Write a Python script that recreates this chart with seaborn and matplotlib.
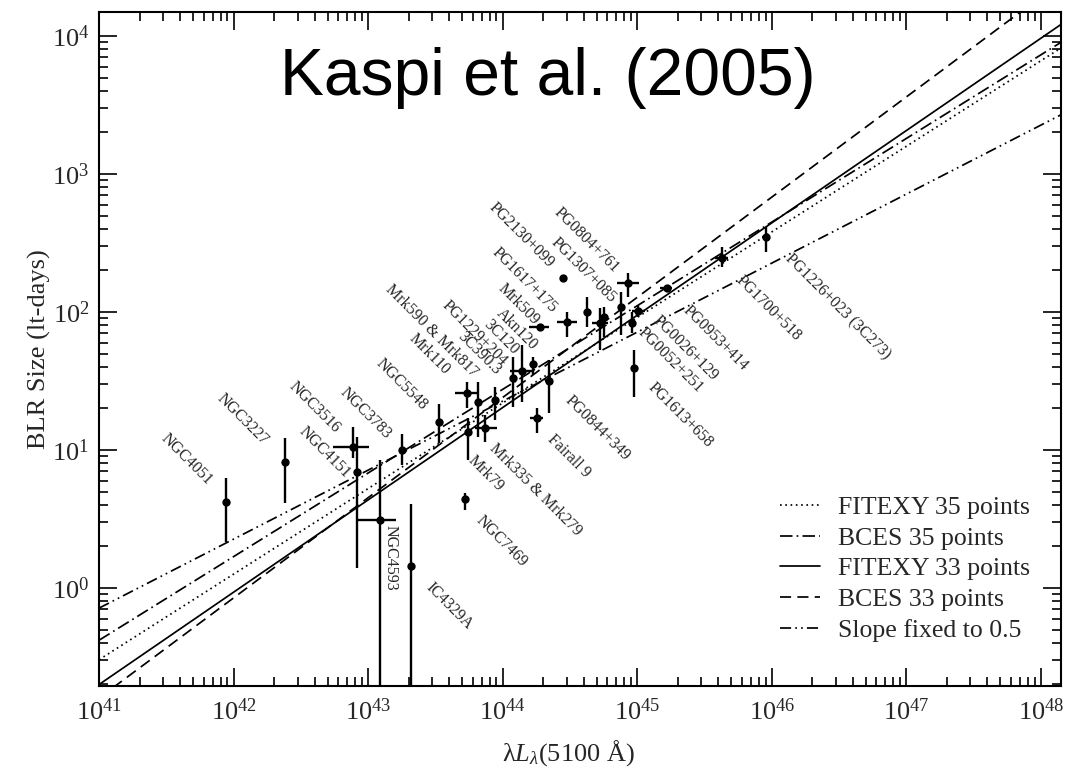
import matplotlib
matplotlib.use("Agg")
import matplotlib.pyplot as plt
import numpy as np
import pandas as pd
import seaborn as sns
from matplotlib.lines import Line2D
from matplotlib.ticker import FixedLocator, LogLocator, NullFormatter

# lambda L_lambda(5100 A) in units of 1e44 erg/s, with lower / upper errors
lum = [0.0088, 0.0241, 0.0778, 0.0824, 0.1227, 0.209, 0.180, 0.336, 0.526, 0.557,
       0.541, 0.661, 0.741, 0.879, 1.20, 1.39, 1.69, 2.22, 1.79, 1.90,
       2.83, 3.00, 4.23, 5.31, 5.62, 7.57, 8.61, 9.12, 10.2, 9.40,
       16.6, 42.7, 90.6]
lum_lo = [0, 0, 0.023, 0.003, 0.040, 0.008, 0.010, 0.010, 0.010, 0.010,
          0.097, 0.030, 0.116, 0.030, 0.05, 0.25, 0.05, 0.15, 0.19, 0.34,
          0.08, 0.47, 0.10, 0.71, 0.15, 0.20, 1.55, 0.25, 1.1, 0.25,
          1.8, 4.7, 6.0]
lum_hi = [0, 0, 0.023, 0.003, 0.039, 0.008, 0.010, 0.010, 0.010, 0.010,
          0.120, 0.030, 0.165, 0.030, 0.05, 0.30, 0.05, 0.15, 0.22, 0.30,
          0.08, 0.56, 0.10, 0.80, 0.15, 0.20, 1.62, 0.25, 1.3, 0.25,
          1.5, 4.8, 7.0]

# BLR size in light-days, with lower / upper errors
r_blr = [4.2, 8.2, 10.6, 6.9, 3.1, 1.45, 10.0, 15.9, 4.4, 13.6,
         25.8, 22.4, 14.4, 23.0, 33.1, 37.6, 41.8, 31.8, 17.1, 78.2,
         175, 85, 100.5, 83.6, 92.4, 109, 161, 83.6, 101.7, 39.1,
         149, 247, 347.5]
r_lo = [2.05, 4.1, 1.9, 5.5, 3.05, 1.4, 2.2, 4.7, 0.7, 5.1,
        5.7, 9.9, 2.9, 6.5, 12.5, 15.2, 6.9, 13.3, 3.9, 4.0,
        9, 18.8, 22.3, 30.5, 26.2, 40.9, 32, 13.5, 10, 14.8,
        8, 34, 74]
r_hi = [2.1, 4.0, 4.2, 5.5, 5.4, 2.6, 3.1, 5.6, 0.5, 3.5,
        5.5, 8.9, 3.5, 5.8, 14.3, 20.1, 5.6, 13.1, 2.9, 4.0,
        10, 15.5, 28.6, 22.8, 16.8, 31, 29.6, 16.9, 10, 14,
        8, 50, 67]

# fits: R = norm * (L / 1e44)^slope
fit_names = ["FITEXY 35 points", "BCES 35 points", "FITEXY 33 points",
             "BCES 33 points", "Slope fixed to 0.5"]
fit_norm = [21.9, 27.5, 20.3, 24.0, 22.6]
fit_slope = [0.62, 0.606, 0.669, 0.726, 0.5]
fit_styles = [(0, (1.2, 2.6)), (0, (9, 3, 1.2, 3)), "-", (0, (8, 4.5)),
              (0, (8, 3, 1.2, 3, 1.2, 3))]

# tick decades
x_decades = [41, 42, 43, 44, 45, 46, 47, 48]
y_decades = [0, 1, 2, 3, 4]

# object names, placed along the diagonal
names_above = ["NGC4051", "NGC3227", "NGC3516", "NGC4151", "NGC3783", "NGC5548",
               "Mrk110", "Mrk590 & Mrk817", "3C390.3", "PG1229+204", "3C120",
               "Akn120", "Mrk509", "PG1617+175", "PG2130+099", "PG1307+085",
               "PG0804+761"]
above_logx = [41.825, 42.242, 42.777, 42.851, 43.156, 43.424, 43.587, 43.796,
              43.967, 44.019, 44.100, 44.242, 44.257, 44.390, 44.361, 44.822, 44.844]
above_logy = [0.761, 1.051, 1.145, 0.812, 1.101, 1.304, 1.565, 1.543,
              1.565, 1.630, 1.710, 1.739, 1.920, 2.014, 2.341, 2.087, 2.304]

names_below = ["IC4329A", "Mrk79", "NGC7469", "Mrk335 & Mrk279", "Fairall 9",
               "PG0844+349", "PG1613+658", "PG0052+251", "PG0026+129",
               "PG0953+414", "PG1700+518", "PG1226+023 (3C273)"]
below_logx = [43.446, 43.758, 43.818, 43.922, 44.353, 44.480, 45.097, 45.022,
              45.134, 45.357, 45.751, 46.115]
below_logy = [0.022, 0.942, 0.507, 1.029, 1.094, 1.377, 1.471, 1.870,
              1.957, 2.029, 2.246, 2.399]

sns.set_theme(style="ticks")
plt.rcParams["font.family"] = ["Liberation Serif", "DejaVu Serif"]
plt.rcParams["mathtext.fontset"] = "custom"
plt.rcParams["mathtext.rm"] = "Liberation Serif"
plt.rcParams["mathtext.it"] = "Liberation Serif:italic"
plt.rcParams["lines.scale_dashes"] = False

df = pd.DataFrame({
    "L": np.array(lum) * 1e44,
    "R": r_blr,
})
xerr = np.array([lum_lo, lum_hi]) * 1e44
yerr = np.array([r_lo, r_hi])

fig = plt.figure(figsize=(10.75, 7.69), dpi=100)
ax = fig.add_axes([99 / 1075, 83 / 769, 962 / 1075, 674 / 769])
ax.set_xscale("log")
ax.set_yscale("log")

lgrid = np.logspace(41, 48.3, 60)
for name, norm, slope, ls in zip(fit_names, fit_norm, fit_slope, fit_styles):
    sns.lineplot(x=lgrid, y=norm * (lgrid / 1e44) ** slope, ax=ax, color="black",
                 linewidth=1.25, linestyle=ls, zorder=2)

ax.errorbar(df["L"], df["R"], xerr=xerr, yerr=yerr, fmt="none", ecolor="black",
            elinewidth=1.7, capsize=0, zorder=3)
sns.scatterplot(data=df, x="L", y="R", ax=ax, color="black", s=36, linewidth=0,
                zorder=4)

for name, lx, ly in zip(names_above, above_logx, above_logy):
    ax.text(10 ** lx, 10 ** ly, name, rotation=-45, rotation_mode="anchor",
            ha="right", va="center", fontsize=11.5)
for name, lx, ly in zip(names_below, below_logx, below_logy):
    ax.text(10 ** lx, 10 ** ly, name, rotation=-45, rotation_mode="anchor",
            ha="left", va="center", fontsize=11.5)
ax.text(10 ** 43.164, 10 ** 0.457, "NGC4593", rotation=-90, rotation_mode="anchor",
        ha="left", va="center", fontsize=11.5)

ax.set_xlim(1e41, 10 ** 48.15)
ax.set_ylim(10 ** -0.71, 10 ** 4.174)

ax.xaxis.set_major_locator(FixedLocator([10.0 ** d for d in x_decades]))
ax.yaxis.set_major_locator(FixedLocator([10.0 ** d for d in y_decades]))
ax.xaxis.set_minor_locator(LogLocator(base=10, subs=np.arange(2, 10), numticks=100))
ax.yaxis.set_minor_locator(LogLocator(base=10, subs=np.arange(2, 10), numticks=100))
ax.xaxis.set_minor_formatter(NullFormatter())
ax.yaxis.set_minor_formatter(NullFormatter())
ax.tick_params(which="both", direction="in", top=True, right=True, color="black",
               width=1.2)
ax.tick_params(which="major", length=13, labelsize=19)
ax.tick_params(which="minor", length=6.5)
ax.tick_params(axis="x", pad=9)
ax.tick_params(axis="y", pad=7)
for sp in ax.spines.values():
    sp.set_visible(True)
    sp.set_linewidth(1.5)
    sp.set_color("black")

ax.set_xlabel("λ$L_\\lambda$(5100 Å)", fontsize=19)
ax.set_ylabel("BLR Size (lt-days)", fontsize=19)
ax.xaxis.set_label_coords(0.488, -0.078)
ax.yaxis.set_label_coords(-0.05, 0.5)

handles = [Line2D([], [], color="black", linewidth=1.25, linestyle=ls)
           for ls in fit_styles]
ax.legend(handles, fit_names, loc="upper left", frameon=False, fontsize=18.5,
          bbox_to_anchor=(780 / 1075, 1 - 496 / 769), bbox_transform=fig.transFigure,
          borderaxespad=0, borderpad=0, handlelength=1.55, handletextpad=0.7,
          labelspacing=0.3)

fig.text(280 / 1075, 1 - 95 / 769, "Kaspi et al. (2005)", family="Liberation Sans",
         fontsize=47.5, ha="left", va="baseline", color="black")

fig.savefig("out.png", dpi=100, facecolor="white")
